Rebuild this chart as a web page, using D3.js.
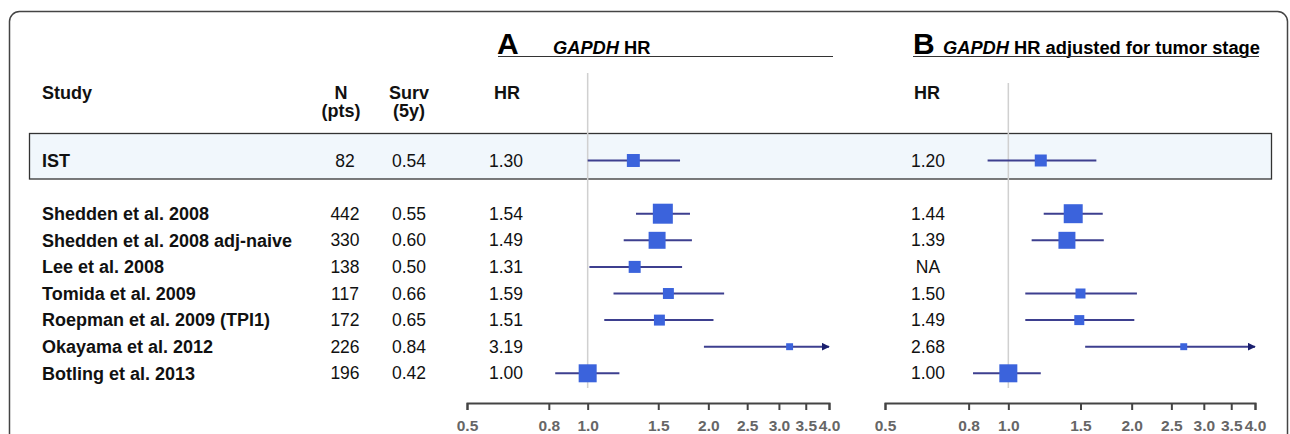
<!DOCTYPE html>
<html>
<head>
<meta charset="utf-8">
<script src="https://cdn.jsdelivr.net/npm/d3@7"></script>
<style>
  body { margin: 0; background: #fff; }
  svg { font-family: "Liberation Sans", Arial, sans-serif; }
</style>
</head>
<body>
<svg width="1290" height="434"></svg>
<script>
// data
const studies = ["IST", "Shedden et al. 2008", "Shedden et al. 2008 adj-naive", "Lee et al. 2008",
  "Tomida et al. 2009", "Roepman et al. 2009 (TPI1)", "Okayama et al. 2012", "Botling et al. 2013"];
const nPts = [82, 442, 330, 138, 117, 172, 226, 196];
const surv5y = ["0.54", "0.55", "0.60", "0.50", "0.66", "0.65", "0.84", "0.42"];

const hrA = [1.30, 1.54, 1.49, 1.31, 1.59, 1.51, 3.19, 1.00];
const loA = [1.00, 1.32, 1.23, 1.01, 1.16, 1.10, 1.95, 0.83];
const hiA = [1.70, 1.80, 1.82, 1.72, 2.19, 2.06, 5.20, 1.20];
const weightA = [42, 100, 72, 36, 30, 30, 12, 81];

const hrB = [1.20, 1.44, 1.39, null, 1.50, 1.49, 2.68, 1.00];
const loB = [0.89, 1.22, 1.14, null, 1.10, 1.10, 1.54, 0.82];
const hiB = [1.64, 1.70, 1.71, null, 2.06, 2.03, 4.70, 1.20];
const weightB = [36, 90, 72, null, 25, 25, 12, 81];

const tickVals = [0.5, 0.8, 1.0, 1.5, 2.0, 2.5, 3.0, 3.5, 4.0];

const svg = d3.select("svg");
const lineColor = "#3d3f8f", boxColor = "#3b63dc";
const fsLab = 18, fsNum = 17.5;

// rows: IST on its own, then a gap
const rowIdx = studies.map((d, i) => i === 0 ? 0 : i + 1);
const y = d3.scaleLinear().domain([0, 8]).range([160.5, 373.3]);

// outer frame
svg.append("rect")
  .attr("x", 9.5).attr("y", 11.5).attr("width", 1278).attr("height", 520)
  .attr("rx", 10).attr("fill", "none").attr("stroke", "#444").attr("stroke-width", 1.5);

// IST highlight
svg.append("rect")
  .attr("x", 29.5).attr("y", 133.5).attr("width", 1242).attr("height", 45.5)
  .attr("fill", "#f1f7fc").attr("stroke", "#333").attr("stroke-width", 1.3);

// titles
const tA = svg.append("text").attr("x", 497).attr("y", 54).attr("font-weight", "bold");
tA.append("tspan").attr("font-size", 30).text("A");
tA.append("tspan").attr("x", 553).attr("font-size", 18.3).attr("font-style", "italic").text("GAPDH");
tA.append("tspan").attr("font-size", 18.3).text(" HR");
svg.append("line").attr("x1", 498).attr("x2", 833).attr("y1", 56.5).attr("y2", 56.5)
  .attr("stroke", "#333").attr("stroke-width", 1.2);

const tB = svg.append("text").attr("x", 913).attr("y", 54).attr("font-weight", "bold");
tB.append("tspan").attr("font-size", 30).text("B");
tB.append("tspan").attr("x", 943).attr("font-size", 18.3).attr("font-style", "italic").text("GAPDH");
tB.append("tspan").attr("font-size", 18.3).text(" HR adjusted for tumor stage");
const bEnd = 913 + tB.node().getComputedTextLength();
svg.append("line").attr("x1", 913).attr("x2", Math.max(bEnd, 1259)).attr("y1", 56.5).attr("y2", 56.5)
  .attr("stroke", "#333").attr("stroke-width", 1.2);

// column headers
const head = svg.append("g").attr("font-weight", "bold").attr("font-size", fsLab).attr("fill", "#111");
head.append("text").attr("x", 42).attr("y", 99).text("Study");
head.append("text").attr("x", 341).attr("y", 99).attr("text-anchor", "middle").text("N");
head.append("text").attr("x", 341).attr("y", 117).attr("text-anchor", "middle").text("(pts)");
head.append("text").attr("x", 409).attr("y", 99).attr("text-anchor", "middle").text("Surv");
head.append("text").attr("x", 409).attr("y", 117).attr("text-anchor", "middle").text("(5y)");
head.append("text").attr("x", 507).attr("y", 99).attr("text-anchor", "middle").text("HR");
head.append("text").attr("x", 927).attr("y", 99).attr("text-anchor", "middle").text("HR");

// table columns
const rows = svg.append("g").attr("font-size", fsNum).attr("fill", "#111");
rows.selectAll(".study").data(studies).enter().append("text")
  .attr("x", 42).attr("y", (d, i) => y(rowIdx[i])).attr("dy", "0.35em")
  .attr("font-weight", "bold").attr("font-size", fsLab).text(d => d);
rows.selectAll(".n").data(nPts).enter().append("text")
  .attr("x", 345).attr("y", (d, i) => y(rowIdx[i])).attr("dy", "0.35em")
  .attr("text-anchor", "middle").text(d => d);
rows.selectAll(".surv").data(surv5y).enter().append("text")
  .attr("x", 409).attr("y", (d, i) => y(rowIdx[i])).attr("dy", "0.35em")
  .attr("text-anchor", "middle").text(d => d);
rows.selectAll(".hra").data(hrA).enter().append("text")
  .attr("x", 506).attr("y", (d, i) => y(rowIdx[i])).attr("dy", "0.35em")
  .attr("text-anchor", "middle").text(d => d.toFixed(2));
rows.selectAll(".hrb").data(hrB).enter().append("text")
  .attr("x", 928).attr("y", (d, i) => y(rowIdx[i])).attr("dy", "0.35em")
  .attr("text-anchor", "middle").text(d => d == null ? "NA" : d.toFixed(2));

// arrow head
svg.append("defs").append("marker")
  .attr("id", "arr").attr("viewBox", "0 0 10 10").attr("refX", 9).attr("refY", 5)
  .attr("markerWidth", 4).attr("markerHeight", 4).attr("orient", "auto")
  .append("path").attr("d", "M0,0L10,5L0,10z").attr("fill", "#1a1f6e");

const box = d3.scaleSqrt().domain([0, 100]).range([0, 20]);

function forest(x0, x1, refTop, hr, lo, hi, w) {
  const x = d3.scaleLog().domain([0.5, 4]).range([x0, x1]);
  const g = svg.append("g");

  g.append("line")
    .attr("x1", x(1)).attr("x2", x(1)).attr("y1", refTop).attr("y2", 388)
    .attr("stroke", "#d0d0d0").attr("stroke-width", 1.5);

  const data = hr.map((d, i) => ({ hr: d, lo: lo[i], hi: hi[i], w: w[i], r: rowIdx[i] }))
    .filter(d => d.hr != null);

  g.selectAll(".ci").data(data).enter().append("line")
    .attr("x1", d => x(d.lo)).attr("x2", d => x(Math.min(d.hi, 4)))
    .attr("y1", d => y(d.r)).attr("y2", d => y(d.r))
    .attr("stroke", lineColor).attr("stroke-width", 2)
    .attr("marker-end", d => d.hi > 4 ? "url(#arr)" : null);

  g.selectAll(".box").data(data).enter().append("rect")
    .attr("x", d => x(d.hr) - box(d.w) / 2).attr("y", d => y(d.r) - box(d.w) / 2)
    .attr("width", d => box(d.w)).attr("height", d => box(d.w))
    .attr("fill", boxColor);

  const ax = svg.append("g").attr("transform", "translate(0,403)")
    .call(d3.axisBottom(x).tickValues(tickVals).tickFormat(d3.format(".1f"))
      .tickSize(7).tickSizeOuter(7).tickPadding(10));
  ax.select(".domain").attr("stroke", "#444").attr("stroke-width", 2);
  ax.selectAll(".tick line").attr("stroke", "#444").attr("stroke-width", 2);
  ax.selectAll(".tick text").attr("font-size", 15.5).attr("font-weight", "bold")
    .attr("fill", "#666").attr("font-family", "Liberation Sans, Arial, sans-serif");
}

forest(467, 829, 73, hrA, loA, hiA, weightA);
forest(885, 1255, 83, hrB, loB, hiB, weightB);
</script>
</body>
</html>
